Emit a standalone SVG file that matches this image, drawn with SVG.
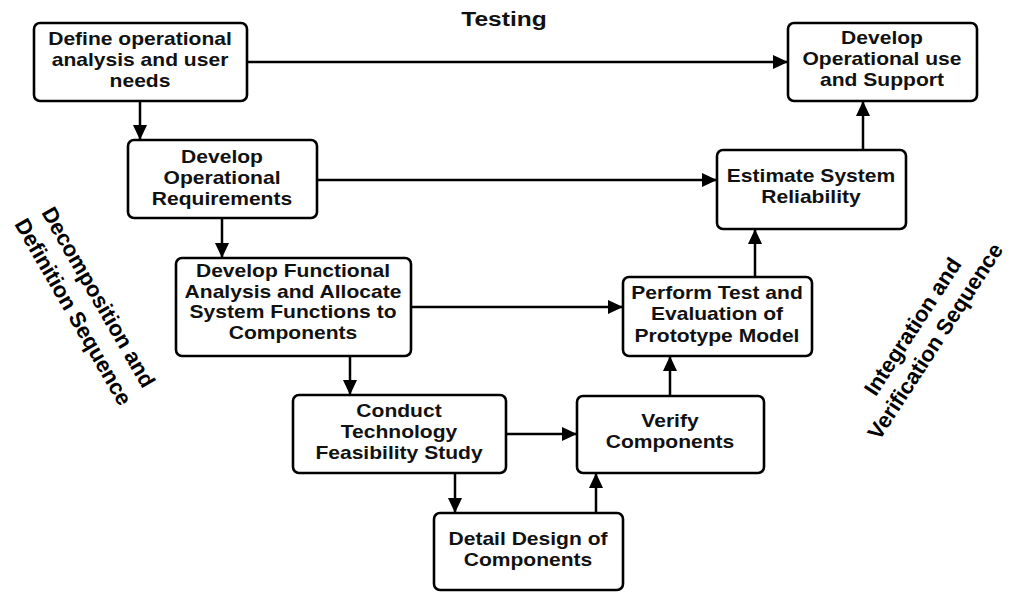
<svg xmlns="http://www.w3.org/2000/svg" width="1009" height="592" viewBox="0 0 1009 592">
<style>
.box{fill:#fff;stroke:#000;stroke-width:2.6}
.t{font-family:"Liberation Sans",Arial,sans-serif;font-weight:bold;font-size:18px;text-anchor:middle;fill:#111}
.side{font-family:"Liberation Sans",Arial,sans-serif;font-weight:bold;font-size:22px;text-anchor:middle;fill:#000}
.c{stroke:#000;stroke-width:2.5;fill:none;marker-end:url(#ah)}
</style>
<defs>
<marker id="ah" markerUnits="userSpaceOnUse" markerWidth="16" markerHeight="14" refX="15" refY="7" orient="auto">
<path d="M0,0 L15,7 L0,14 z" fill="#000"/>
</marker>
</defs>
<rect width="1009" height="592" fill="#fff"/>
<text class="t" font-size="21" transform="translate(504,0) scale(1.17,1)" x="0" y="26" style="font-size:21px">Testing</text>
<g id="connectors">
<line class="c" x1="247" y1="62" x2="788" y2="62"/>
<line class="c" x1="140" y1="101" x2="140" y2="140"/>
<line class="c" x1="317" y1="180" x2="717" y2="180"/>
<line class="c" x1="222" y1="218" x2="222" y2="258"/>
<line class="c" x1="411" y1="307" x2="623" y2="307"/>
<line class="c" x1="350" y1="356" x2="350" y2="395"/>
<line class="c" x1="506" y1="434" x2="577" y2="434"/>
<line class="c" x1="455" y1="473" x2="455" y2="513"/>
<line class="c" x1="596" y1="513" x2="596" y2="473"/>
<line class="c" x1="670" y1="396" x2="670" y2="356"/>
<line class="c" x1="755" y1="277" x2="755" y2="229"/>
<line class="c" x1="863" y1="150" x2="863" y2="101"/>
</g>
<g id="n1">
<rect class="box" x="34" y="23" width="213" height="78" rx="6"/>
<text class="t" transform="translate(140,0) scale(1.17,1)"><tspan x="0" y="45">Define operational</tspan><tspan x="0" y="66">analysis and user</tspan><tspan x="0" y="87">needs</tspan></text>
</g>
<g id="n2">
<rect class="box" x="128" y="140" width="189" height="78" rx="6"/>
<text class="t" transform="translate(222,0) scale(1.17,1)"><tspan x="0" y="163">Develop</tspan><tspan x="0" y="184">Operational</tspan><tspan x="0" y="205">Requirements</tspan></text>
</g>
<g id="n3">
<rect class="box" x="176" y="258" width="235" height="98" rx="6"/>
<text class="t" transform="translate(293,0) scale(1.17,1)"><tspan x="0" y="277">Develop Functional</tspan><tspan x="0" y="298">Analysis and Allocate</tspan><tspan x="0" y="318">System Functions to</tspan><tspan x="0" y="339">Components</tspan></text>
</g>
<g id="n4">
<rect class="box" x="293" y="395" width="213" height="78" rx="6"/>
<text class="t" transform="translate(399,0) scale(1.17,1)"><tspan x="0" y="417">Conduct</tspan><tspan x="0" y="438">Technology</tspan><tspan x="0" y="459">Feasibility Study</tspan></text>
</g>
<g id="n5">
<rect class="box" x="434" y="513" width="189" height="77" rx="6"/>
<text class="t" transform="translate(528,0) scale(1.17,1)"><tspan x="0" y="545">Detail Design of</tspan><tspan x="0" y="566">Components</tspan></text>
</g>
<g id="n6">
<rect class="box" x="577" y="396" width="187" height="77" rx="6"/>
<text class="t" transform="translate(670,0) scale(1.17,1)"><tspan x="0" y="427">Verify</tspan><tspan x="0" y="448">Components</tspan></text>
</g>
<g id="n7">
<rect class="box" x="623" y="277" width="189" height="79" rx="6"/>
<text class="t" transform="translate(717,0) scale(1.17,1)"><tspan x="0" y="299">Perform Test and</tspan><tspan x="0" y="320">Evaluation of</tspan><tspan x="0" y="342">Prototype Model</tspan></text>
</g>
<g id="n8">
<rect class="box" x="717" y="150" width="189" height="79" rx="6"/>
<text class="t" transform="translate(811,0) scale(1.17,1)"><tspan x="0" y="182">Estimate System</tspan><tspan x="0" y="203">Reliability</tspan></text>
</g>
<g id="n9">
<rect class="box" x="788" y="23" width="189" height="78" rx="6"/>
<text class="t" transform="translate(882,0) scale(1.17,1)"><tspan x="0" y="44">Develop</tspan><tspan x="0" y="65">Operational use</tspan><tspan x="0" y="86">and Support</tspan></text>
</g>
<text class="side" transform="translate(85,305) rotate(60)"><tspan x="0" y="-8">Decomposition and</tspan><tspan x="0" y="21">Definition Sequence</tspan></text>
<text class="side" transform="translate(924,334) rotate(-57)"><tspan x="0" y="-6">Integration and</tspan><tspan x="0" y="21">Verification Sequence</tspan></text>
</svg>
